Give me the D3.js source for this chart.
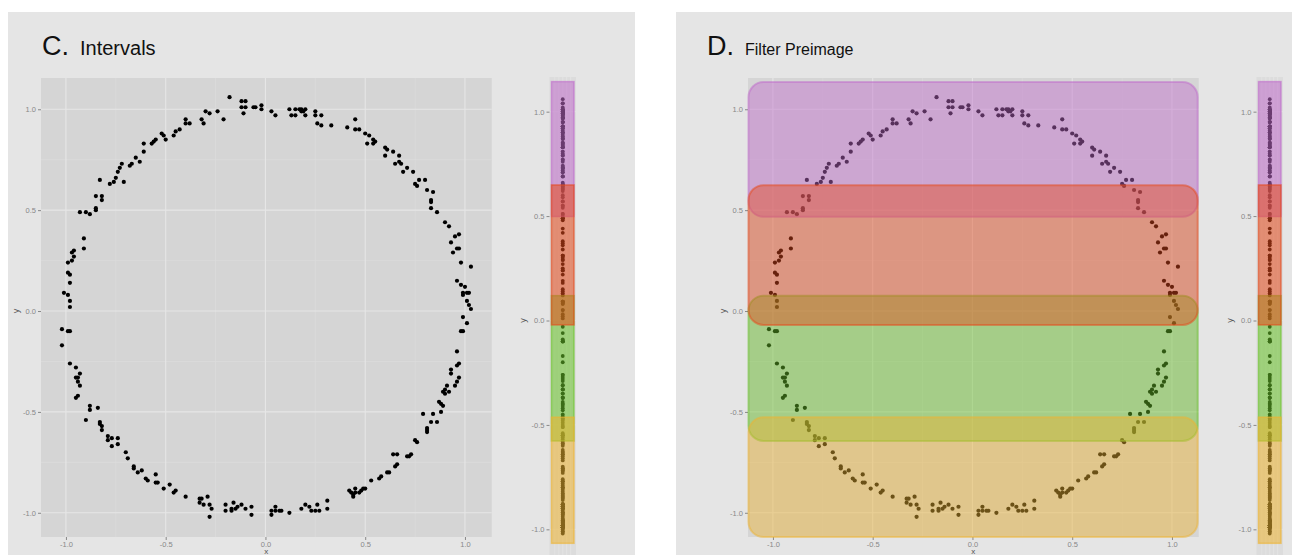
<!DOCTYPE html>
<html lang="en">
<head>
<meta charset="utf-8">
<title>Intervals / Filter Preimage</title>
<script src="https://d3js.org/d3.v7.min.js"></script>
<style>
  body { margin: 0; background: #fff; }
  text { font-family: "Liberation Sans", Arial, sans-serif; }
</style>
</head>
<body>
<script>
"use strict";

const W = 1292, H = 555;

// points of the noisy circle as [x, y]
const circlePoints = [
  [-0.18,1.06],[-0.12,1.04],[-0.10,1.04],[-0.12,1.01],[-0.10,1.01],[-0.11,0.98],[-0.06,1.01],[-0.05,1.01],
  [-0.02,1.02],[-0.02,1.00],[0.03,0.99],[0.05,0.97],[0.12,1.00],[0.13,0.97],[0.15,0.97],[0.15,1.00],
  [0.17,1.00],[0.18,0.99],[0.18,1.00],[0.19,0.99],[0.20,1.00],[0.20,0.97],[0.25,0.99],[0.25,0.97],
  [0.26,0.93],[0.28,0.92],[0.28,0.97],[0.33,0.92],[0.41,0.91],[0.45,0.95],[0.45,0.90],[0.47,0.90],
  [0.50,0.88],[0.52,0.87],[0.51,0.83],[0.54,0.85],[0.54,0.83],[0.55,0.84],[0.60,0.81],[0.61,0.80],
  [0.60,0.77],[0.64,0.79],[0.67,0.77],[0.65,0.73],[0.67,0.74],[0.68,0.73],[0.69,0.69],[0.71,0.71],
  [0.74,0.69],[0.75,0.63],[0.76,0.62],[0.77,0.65],[0.80,0.65],[0.81,0.60],[0.84,0.59],[0.83,0.55],
  [0.83,0.54],[0.83,0.51],[0.86,0.49],[0.90,0.44],[0.92,0.42],[0.95,0.37],[0.97,0.38],[0.93,0.34],
  [0.96,0.31],[0.97,0.31],[0.94,0.29],[0.98,0.24],[1.03,0.22],[0.96,0.15],[0.98,0.13],[1.00,0.12],
  [0.99,0.09],[1.01,0.09],[1.02,0.09],[0.99,0.08],[1.01,0.05],[1.02,0.03],[1.03,0.01],[0.99,-0.03],
  [1.01,-0.06],[0.98,-0.10],[0.99,-0.10],[0.96,-0.20],[0.97,-0.26],[0.96,-0.27],[0.93,-0.29],[0.93,-0.31],
  [0.97,-0.33],[0.96,-0.35],[0.95,-0.37],[0.91,-0.37],[0.90,-0.39],[0.92,-0.40],[0.89,-0.40],[0.90,-0.41],
  [0.87,-0.45],[0.88,-0.46],[0.89,-0.47],[0.88,-0.50],[0.84,-0.51],[0.79,-0.51],[0.83,-0.55],[0.86,-0.55],
  [0.81,-0.58],[0.81,-0.59],[0.81,-0.60],[0.75,-0.64],[0.76,-0.65],[0.73,-0.71],[0.72,-0.72],[0.71,-0.72],
  [0.66,-0.71],[0.64,-0.71],[0.66,-0.76],[0.65,-0.77],[0.62,-0.80],[0.61,-0.80],[0.58,-0.82],[0.57,-0.83],
  [0.53,-0.84],[0.50,-0.88],[0.49,-0.88],[0.48,-0.89],[0.47,-0.90],[0.45,-0.88],[0.45,-0.90],[0.44,-0.91],
  [0.44,-0.92],[0.43,-0.90],[0.42,-0.89],[0.31,-0.94],[0.31,-0.98],[0.26,-0.96],[0.27,-0.99],[0.25,-0.99],
  [0.23,-0.99],[0.22,-0.97],[0.20,-0.96],[0.18,-0.98],[0.12,-1.00],[0.08,-0.99],[0.07,-0.99],[0.05,-0.99],
  [0.05,-0.97],[0.03,-1.01],[0.03,-0.99],[-0.07,-1.01],[-0.07,-0.97],[-0.10,-0.98],[-0.12,-0.96],[-0.14,-0.97],
  [-0.15,-0.98],[-0.16,-0.95],[-0.17,-0.98],[-0.17,-0.99],[-0.20,-0.99],[-0.20,-0.96],[-0.27,-0.98],[-0.28,-1.02],
  [-0.28,-0.96],[-0.29,-0.92],[-0.31,-0.96],[-0.33,-0.95],[-0.33,-0.93],[-0.32,-0.93],[-0.40,-0.92],[-0.45,-0.89],
  [-0.46,-0.90],[-0.48,-0.86],[-0.51,-0.88],[-0.54,-0.85],[-0.55,-0.85],[-0.55,-0.81],[-0.59,-0.84],[-0.60,-0.83],
  [-0.62,-0.79],[-0.64,-0.80],[-0.66,-0.78],[-0.66,-0.77],[-0.69,-0.73],[-0.70,-0.70],[-0.74,-0.66],[-0.74,-0.63],
  [-0.77,-0.67],[-0.77,-0.63],[-0.79,-0.64],[-0.79,-0.62],[-0.82,-0.59],[-0.82,-0.57],[-0.83,-0.56],[-0.83,-0.55],
  [-0.84,-0.48],[-0.88,-0.47],[-0.88,-0.49],[-0.90,-0.54],[-0.94,-0.42],[-0.95,-0.43],[-0.93,-0.37],[-0.94,-0.35],
  [-0.95,-0.33],[-0.94,-0.33],[-0.93,-0.31],[-0.95,-0.28],[-0.98,-0.26],[-0.98,-0.10],[-0.99,-0.10],[-1.02,-0.17],
  [-1.02,-0.09],[-0.98,0.02],[-0.98,0.05],[-0.99,0.08],[-1.01,0.09],[-0.98,0.14],[-0.98,0.18],[-0.99,0.19],
  [-0.99,0.24],[-0.97,0.25],[-0.96,0.27],[-0.97,0.29],[-0.96,0.30],[-0.91,0.31],[-0.91,0.36],[-0.93,0.49],
  [-0.90,0.49],[-0.88,0.48],[-0.85,0.51],[-0.85,0.50],[-0.85,0.57],[-0.82,0.57],[-0.82,0.55],[-0.83,0.65],
  [-0.78,0.63],[-0.76,0.64],[-0.75,0.66],[-0.74,0.69],[-0.73,0.71],[-0.72,0.73],[-0.71,0.64],[-0.68,0.72],
  [-0.67,0.73],[-0.65,0.76],[-0.63,0.74],[-0.61,0.79],[-0.61,0.83],[-0.57,0.83],[-0.56,0.84],[-0.55,0.85],
  [-0.51,0.87],[-0.52,0.88],[-0.50,0.85],[-0.46,0.87],[-0.45,0.89],[-0.43,0.90],[-0.40,0.93],[-0.40,0.95],
  [-0.38,0.93],[-0.32,0.95],[-0.31,0.93],[-0.30,0.99],[-0.28,0.98],[-0.24,0.99],[-0.21,0.95]
];

// cover intervals on the filter (y) axis, as drawn in the side strips
// order = drawing order: purple, green, red, yellow
const intervalLow  = [0.498, -0.577, -0.021, -1.067];
const intervalHigh = [1.144, 0.119, 0.649, -0.463];
const intervalColors = ["#c06ccb", "#6ac42a", "#e54a1c", "#eeb432"];

// the same bands as they sit over the scatter in panel D
const preimageLow  = [0.467, -0.644, -0.069, -1.12];
const preimageHigh = [1.135, 0.076, 0.624, -0.527];

const tickValues = [-1, -0.5, 0, 0.5, 1];
const minorTicks = [-0.75, -0.25, 0.25, 0.75];
const panelLetters = ["C.", "D."];
const panelNames = ["Intervals", "Filter Preimage"];

let svg = d3.select("body").append("svg")
  .attr("width", W)
  .attr("height", H);

svg.append("rect").attr("width", W).attr("height", H).attr("fill", "#fff");

const fmt = d => d.toFixed(1);

// one panel = scatter + strip, second one is shifted right
const panels = [
  { off: 0,   bgX0: 8,   bgX1: 635, titleX: 42,  nameX: 80,  nameSize: 20, overlay: false },
  { off: 707, bgX0: 676, bgX1: W,   titleX: 707, nameX: 745, nameSize: 16, overlay: true }
];

panels.forEach(function(p, i) {
  let g = svg.append("g");

  g.append("rect")
    .attr("x", p.bgX0).attr("y", 12)
    .attr("width", p.bgX1 - p.bgX0).attr("height", H - 12)
    .attr("fill", "#e5e5e5");

  // title
  g.append("text")
    .attr("x", p.titleX).attr("y", 55)
    .attr("font-size", 27).attr("fill", "#111")
    .text(panelLetters[i]);
  g.append("text")
    .attr("x", p.nameX).attr("y", 55)
    .attr("font-size", p.nameSize).attr("fill", "#111")
    .text(panelNames[i]);

  //scatter scales
  let x = d3.scaleLinear().domain([-1.125, 1.134]).range([41 + p.off, 491.7 + p.off]);
  let y = d3.scaleLinear().domain([-1.12, 1.155]).range([537, 78]);

  g.append("rect")
    .attr("x", x.range()[0]).attr("y", y.range()[1])
    .attr("width", x.range()[1] - x.range()[0])
    .attr("height", y.range()[0] - y.range()[1])
    .attr("fill", "#d5d5d5");

  // grid
  g.selectAll(".vminor").data(minorTicks).enter().append("line")
    .attr("x1", d => x(d)).attr("x2", d => x(d))
    .attr("y1", y.range()[1]).attr("y2", y.range()[0])
    .attr("stroke", "#dcdcdc").attr("stroke-width", 0.7);
  g.selectAll(".hminor").data(minorTicks).enter().append("line")
    .attr("y1", d => y(d)).attr("y2", d => y(d))
    .attr("x1", x.range()[0]).attr("x2", x.range()[1])
    .attr("stroke", "#dcdcdc").attr("stroke-width", 0.7);
  g.selectAll(".vmajor").data(tickValues).enter().append("line")
    .attr("x1", d => x(d)).attr("x2", d => x(d))
    .attr("y1", y.range()[1]).attr("y2", y.range()[0])
    .attr("stroke", "#e6e6e6").attr("stroke-width", 1.1);
  g.selectAll(".hmajor").data(tickValues).enter().append("line")
    .attr("y1", d => y(d)).attr("y2", d => y(d))
    .attr("x1", x.range()[0]).attr("x2", x.range()[1])
    .attr("stroke", "#e6e6e6").attr("stroke-width", 1.1);

  // axes
  let xAxis = g.append("g")
    .attr("transform", "translate(0," + y.range()[0] + ")")
    .call(d3.axisBottom(x).tickValues(tickValues).tickSize(3).tickPadding(2).tickFormat(fmt));
  let yAxis = g.append("g")
    .attr("transform", "translate(" + x.range()[0] + ",0)")
    .call(d3.axisLeft(y).tickValues(tickValues).tickSize(3).tickPadding(2).tickFormat(fmt));
  [xAxis, yAxis].forEach(function(a) {
    a.select(".domain").remove();
    a.selectAll("line").attr("stroke", "#888");
    a.selectAll("text").attr("fill", "#888").attr("font-size", 7.5)
      .attr("font-family", "Liberation Sans, Arial, sans-serif");
  });

  g.append("text")
    .attr("x", (x.range()[0] + x.range()[1]) / 2).attr("y", 554)
    .attr("text-anchor", "middle").attr("font-size", 8).attr("fill", "#555")
    .text("x");
  g.append("text")
    .attr("transform", "translate(" + (x.range()[0] - 22) + "," + y(0) + ") rotate(-90)")
    .attr("text-anchor", "middle").attr("font-size", 9).attr("fill", "#555")
    .text("y");

  // points
  g.selectAll(".pt").data(circlePoints).enter().append("circle")
    .attr("cx", d => x(d[0])).attr("cy", d => y(d[1]))
    .attr("r", 2.1).attr("fill", "#000");

  // preimage bands over the scatter
  if (p.overlay) {
    g.selectAll(".band").data(intervalColors).enter().append("rect")
      .attr("x", x.range()[0] + 0.5)
      .attr("width", x.range()[1] - x.range()[0] - 1.5)
      .attr("y", (d, k) => y(preimageHigh[k]))
      .attr("height", (d, k) => y(preimageLow[k]) - y(preimageHigh[k]))
      .attr("rx", 15).attr("ry", 15)
      .attr("fill", d => d).attr("fill-opacity", 0.45)
      .attr("stroke", d => d).attr("stroke-opacity", 0.5).attr("stroke-width", 2);
  }

  // strip of the filter values
  let sx = d3.scaleLinear().domain([-1, 1]).range([549.5 + p.off, 576 + p.off]);
  let sy = d3.scaleLinear().domain([-1.166, 1.166]).range([564, 77]);

  g.append("rect")
    .attr("x", sx.range()[0]).attr("y", sy.range()[1])
    .attr("width", sx.range()[1] - sx.range()[0])
    .attr("height", sy.range()[0] - sy.range()[1])
    .attr("fill", "#dcdcdc");
  g.selectAll(".sgrid").data([-0.6, -0.3, 0, 0.3, 0.6]).enter().append("line")
    .attr("x1", d => sx(d)).attr("x2", d => sx(d))
    .attr("y1", sy.range()[1]).attr("y2", sy.range()[0])
    .attr("stroke", "#e4e4e4").attr("stroke-width", 0.8);
  g.selectAll(".sgridh").data(tickValues).enter().append("line")
    .attr("y1", d => sy(d)).attr("y2", d => sy(d))
    .attr("x1", sx.range()[0]).attr("x2", sx.range()[1])
    .attr("stroke", "#e4e4e4").attr("stroke-width", 0.8);

  let sAxis = g.append("g")
    .attr("transform", "translate(" + sx.range()[0] + ",0)")
    .call(d3.axisLeft(sy).tickValues(tickValues).tickSize(3).tickPadding(2).tickFormat(fmt));
  sAxis.select(".domain").remove();
  sAxis.selectAll("line").attr("stroke", "#888");
  sAxis.selectAll("text").attr("fill", "#888").attr("font-size", 7.5)
    .attr("font-family", "Liberation Sans, Arial, sans-serif");

  g.append("text")
    .attr("transform", "translate(" + (sx.range()[0] - 24) + "," + sy(0) + ") rotate(-90)")
    .attr("text-anchor", "middle").attr("font-size", 9).attr("fill", "#555")
    .text("y");

  g.selectAll(".spt").data(circlePoints).enter().append("circle")
    .attr("cx", sx(0)).attr("cy", d => sy(d[1]))
    .attr("r", 1.9).attr("fill", "#000");

  g.selectAll(".sband").data(intervalColors).enter().append("rect")
    .attr("x", sx(-0.85))
    .attr("width", sx(0.85) - sx(-0.85))
    .attr("y", (d, k) => sy(intervalHigh[k]))
    .attr("height", (d, k) => sy(intervalLow[k]) - sy(intervalHigh[k]))
    .attr("fill", d => d).attr("fill-opacity", 0.55)
    .attr("stroke", d => d).attr("stroke-opacity", 0.6).attr("stroke-width", 1.5);
});
</script>
</body>
</html>
